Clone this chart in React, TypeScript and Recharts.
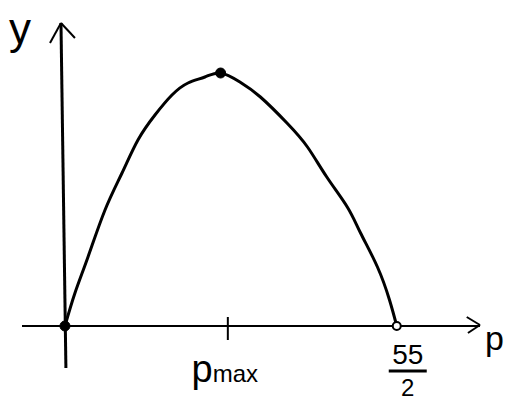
import {
  ComposedChart,
  Line,
  ReferenceDot,
  ReferenceLine,
  XAxis,
  YAxis,
} from "recharts";

// sketch of y against p, rising from the origin to a peak and back to zero
const P_VALUES = [
  0, 0.83, 1.91, 3.32, 4.73, 6.05, 7.46, 8.87, 10.2, 11.6, 12.9, 14.5, 16.2,
  18.4, 20.1, 21.7, 23.4, 24.5, 25.9, 26.9, 27.5,
];
const Y_VALUES = [
  0, 33, 69, 116, 153, 186, 211, 231, 243, 249, 253, 244, 229, 203, 179, 149,
  119, 93, 59, 26, 0,
];

const P_MAX_TICK = 13.5;
const P_ROOT = 27.5;
const ROOT_LABEL = ["55", "2"];

const X_DOMAIN: [number, number] = [-3.56, 34.4];
const Y_DOMAIN: [number, number] = [-42, 303];

const data = P_VALUES.map((p, i) => ({ p, y: Y_VALUES[i] }));
const peakIdx = Y_VALUES.indexOf(Math.max(...Y_VALUES));

const INK = "#000";
const FONT = "'Liberation Sans', Arial, sans-serif";

export default function App() {
  return (
    <div
      style={{
        position: "absolute",
        left: 0,
        top: 0,
        width: 506,
        height: 400,
        background: "#fff",
      }}
    >
      <ComposedChart
        width={506}
        height={400}
        data={data}
        margin={{ top: 23, right: 26, bottom: 32, left: 22 }}
      >
        <XAxis
          dataKey="p"
          type="number"
          domain={X_DOMAIN}
          allowDataOverflow
          hide
        />
        <YAxis type="number" domain={Y_DOMAIN} allowDataOverflow hide />

        {/* p axis with arrow */}
        <ReferenceLine
          y={0}
          stroke={INK}
          strokeWidth={2}
          label={(props: any) => {
            const vb = props.viewBox || {};
            return (
              <text
                x={vb.x + vb.width + 24}
                y={350}
                textAnchor="end"
                fontFamily={FONT}
                fontSize={34}
                fill={INK}
              >
                p
              </text>
            );
          }}
        />
        <ReferenceLine
          segment={[
            { x: 33.3, y: 9 },
            { x: 34.4, y: 1 },
          ]}
          stroke={INK}
          strokeWidth={2}
          ifOverflow="visible"
        />
        <ReferenceLine
          segment={[
            { x: 33.4, y: -7 },
            { x: 34.4, y: 1 },
          ]}
          stroke={INK}
          strokeWidth={2}
          ifOverflow="visible"
        />

        {/* y axis with arrow */}
        <ReferenceLine
          segment={[
            { x: 0.08, y: -42 },
            { x: -0.33, y: 303 },
          ]}
          stroke={INK}
          strokeWidth={3}
          ifOverflow="visible"
          label={(props: any) => {
            const vb = props.viewBox || {};
            return (
              <text
                x={vb.x - 52}
                y={44}
                fontFamily={FONT}
                fontSize={44}
                fill={INK}
              >
                y
              </text>
            );
          }}
        />
        <ReferenceLine
          segment={[
            { x: -1.24, y: 283 },
            { x: -0.33, y: 303 },
          ]}
          stroke={INK}
          strokeWidth={2}
          ifOverflow="visible"
        />
        <ReferenceLine
          segment={[
            { x: 0.83, y: 288 },
            { x: -0.33, y: 303 },
          ]}
          stroke={INK}
          strokeWidth={2}
          ifOverflow="visible"
        />

        {/* p_max tick */}
        <ReferenceLine
          segment={[
            { x: P_MAX_TICK, y: 9 },
            { x: P_MAX_TICK, y: -14 },
          ]}
          stroke={INK}
          strokeWidth={2}
          ifOverflow="visible"
          label={(props: any) => {
            const vb = props.viewBox || {};
            return (
              <text
                x={vb.x - 3}
                y={382}
                textAnchor="middle"
                fontFamily={FONT}
                fill={INK}
              >
                <tspan fontSize={38}>p</tspan>
                <tspan fontSize={24}>max</tspan>
              </text>
            );
          }}
        />

        <Line
          dataKey="y"
          type="natural"
          stroke={INK}
          strokeWidth={3}
          dot={false}
          activeDot={false}
          isAnimationActive={false}
        />

        <ReferenceDot x={0} y={0} r={5} fill={INK} stroke={INK} />
        <ReferenceDot
          x={P_VALUES[peakIdx]}
          y={Y_VALUES[peakIdx]}
          r={5}
          fill={INK}
          stroke={INK}
        />
        <ReferenceDot
          x={P_ROOT}
          y={0}
          r={4}
          fill="#fff"
          stroke={INK}
          strokeWidth={2}
          label={(props: any) => {
            const vb = props.viewBox || {};
            const cx = vb.x + vb.width / 2 + 11;
            return (
              <g>
                <text
                  x={cx}
                  y={364}
                  textAnchor="middle"
                  fontFamily={FONT}
                  fontSize={28}
                  fill={INK}
                >
                  {ROOT_LABEL[0]}
                </text>
                <line
                  x1={cx - 19}
                  x2={cx + 19}
                  y1={371}
                  y2={371}
                  stroke={INK}
                  strokeWidth={3}
                />
                <text
                  x={cx}
                  y={396}
                  textAnchor="middle"
                  fontFamily={FONT}
                  fontSize={24}
                  fill={INK}
                >
                  {ROOT_LABEL[1]}
                </text>
              </g>
            );
          }}
        />
      </ComposedChart>
    </div>
  );
}
